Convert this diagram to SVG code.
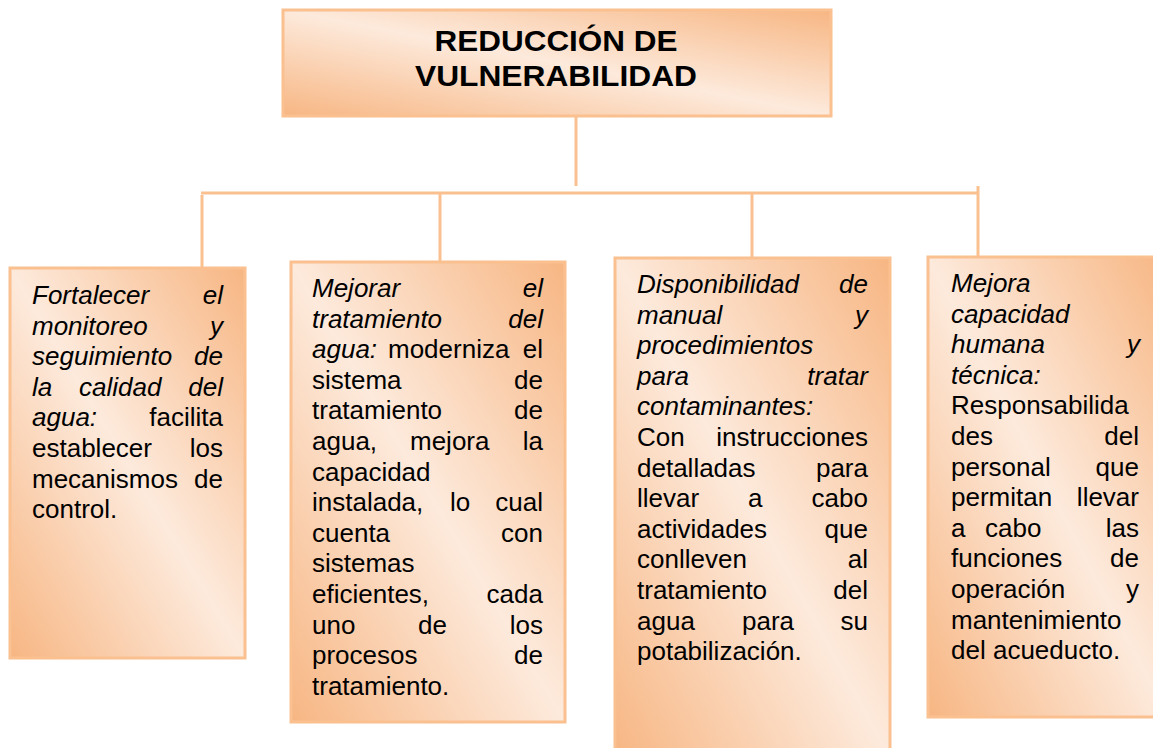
<svg xmlns="http://www.w3.org/2000/svg" width="1153" height="748" viewBox="0 0 1153 748">
<defs>
<linearGradient id="g" x1="1" y1="0" x2="0" y2="1">
<stop offset="0" stop-color="#F7B683"/>
<stop offset="0.5" stop-color="#FDEADC"/>
<stop offset="1" stop-color="#F7B683"/>
</linearGradient>
<style>
.box{fill:url(#g);stroke:#FAC090;stroke-width:3}
.con{stroke:#FAC090;stroke-width:3;fill:none}
text{font-family:"Liberation Sans",Arial,sans-serif;fill:#000}
.t{font-size:26px}
.i{font-style:italic}
.e{text-anchor:end}
.h{font-size:29px;font-weight:bold;text-anchor:middle}
</style>
</defs>
<rect width="1153" height="748" fill="#fff"/>
<g id="connectors">
<line class="con" x1="576" y1="116" x2="576" y2="186"/>
<line class="con" x1="201" y1="193" x2="977" y2="193"/>
<line class="con" x1="202" y1="195" x2="202" y2="267"/>
<line class="con" x1="440" y1="193" x2="440" y2="261"/>
<line class="con" x1="752" y1="193" x2="752" y2="258"/>
<line class="con" x1="978" y1="186" x2="978" y2="257"/>
</g>
<g id="title">
<rect class="box" x="283" y="10" width="548" height="106"/>
<text class="h" x="556" y="51" textLength="243" lengthAdjust="spacingAndGlyphs">REDUCCIÓN DE</text>
<text class="h" x="556" y="86" textLength="282" lengthAdjust="spacingAndGlyphs">VULNERABILIDAD</text>
</g>
<g id="node1" class="t">
<rect class="box" x="10" y="268" width="235" height="390"/>
<text class="i" x="32" y="304">Fortalecer</text><text class="i e" x="223" y="304">el</text>
<text class="i" x="32" y="334.6">monitoreo</text><text class="i e" x="223" y="334.6">y</text>
<text class="i" x="32" y="365.2">seguimiento</text><text class="i e" x="223" y="365.2">de</text>
<text class="i" x="32" y="395.8">la</text><text class="i" x="79" y="395.8">calidad</text><text class="i e" x="223" y="395.8">del</text>
<text class="i" x="32" y="426.4">agua:</text><text class="e" x="223" y="426.4">facilita</text>
<text x="32" y="457">establecer</text><text class="e" x="223" y="457">los</text>
<text x="32" y="487.6">mecanismos</text><text class="e" x="223" y="487.6">de</text>
<text x="32" y="518.2">control.</text>
</g>
<g id="node2" class="t">
<rect class="box" x="291" y="262" width="274" height="460"/>
<text class="i" x="312" y="297">Mejorar</text><text class="i e" x="543" y="297">el</text>
<text class="i" x="312" y="327.6">tratamiento</text><text class="i e" x="543" y="327.6">del</text>
<text class="i" x="312" y="358.2">agua:</text><text x="388" y="358.2">moderniza</text><text class="e" x="543" y="358.2">el</text>
<text x="312" y="388.8">sistema</text><text class="e" x="543" y="388.8">de</text>
<text x="312" y="419.4">tratamiento</text><text class="e" x="543" y="419.4">de</text>
<text x="312" y="450">agua,</text><text x="410" y="450">mejora</text><text class="e" x="543" y="450">la</text>
<text x="312" y="480.6">capacidad</text>
<text x="312" y="511.2">instalada,</text><text x="450" y="511.2">lo</text><text class="e" x="543" y="511.2">cual</text>
<text x="312" y="541.8">cuenta</text><text class="e" x="543" y="541.8">con</text>
<text x="312" y="572.4">sistemas</text>
<text x="312" y="603">eficientes,</text><text class="e" x="543" y="603">cada</text>
<text x="312" y="633.6">uno</text><text x="418" y="633.6">de</text><text class="e" x="543" y="633.6">los</text>
<text x="312" y="664.2">procesos</text><text class="e" x="543" y="664.2">de</text>
<text x="312" y="694.8">tratamiento.</text>
</g>
<g id="node3" class="t">
<rect class="box" x="615" y="258" width="275" height="500"/>
<text class="i" x="637" y="293">Disponibilidad</text><text class="i e" x="868" y="293">de</text>
<text class="i" x="637" y="323.6">manual</text><text class="i e" x="868" y="323.6">y</text>
<text class="i" x="637" y="354.2">procedimientos</text>
<text class="i" x="637" y="384.8">para</text><text class="i e" x="868" y="384.8">tratar</text>
<text class="i" x="637" y="415.4">contaminantes:</text>
<text x="637" y="446">Con</text><text class="e" x="868" y="446">instrucciones</text>
<text x="637" y="476.6">detalladas</text><text class="e" x="868" y="476.6">para</text>
<text x="637" y="507.2">llevar</text><text x="748" y="507.2">a</text><text class="e" x="868" y="507.2">cabo</text>
<text x="637" y="537.8">actividades</text><text class="e" x="868" y="537.8">que</text>
<text x="637" y="568.4">conlleven</text><text class="e" x="868" y="568.4">al</text>
<text x="637" y="599">tratamiento</text><text class="e" x="868" y="599">del</text>
<text x="637" y="629.6">agua</text><text x="742" y="629.6">para</text><text class="e" x="868" y="629.6">su</text>
<text x="637" y="660.2">potabilización.</text>
</g>
<g id="node4" class="t">
<rect class="box" x="928" y="257" width="240" height="460"/>
<text class="i" x="951" y="292">Mejora</text>
<text class="i" x="951" y="322.6">capacidad</text>
<text class="i" x="951" y="353.2">humana</text><text class="i e" x="1140" y="353.2">y</text>
<text class="i" x="951" y="383.8">técnica:</text>
<text x="951" y="414.4">Responsabilida</text>
<text x="951" y="445">des</text><text class="e" x="1139" y="445">del</text>
<text x="951" y="475.6">personal</text><text class="e" x="1139" y="475.6">que</text>
<text x="951" y="506.2">permitan</text><text class="e" x="1139" y="506.2">llevar</text>
<text x="951" y="536.8">a</text><text x="985" y="536.8">cabo</text><text class="e" x="1139" y="536.8">las</text>
<text x="951" y="567.4">funciones</text><text class="e" x="1139" y="567.4">de</text>
<text x="951" y="598">operación</text><text class="e" x="1139" y="598">y</text>
<text x="951" y="628.6">mantenimiento</text>
<text x="951" y="659.2">del acueducto.</text>
</g>
</svg>
